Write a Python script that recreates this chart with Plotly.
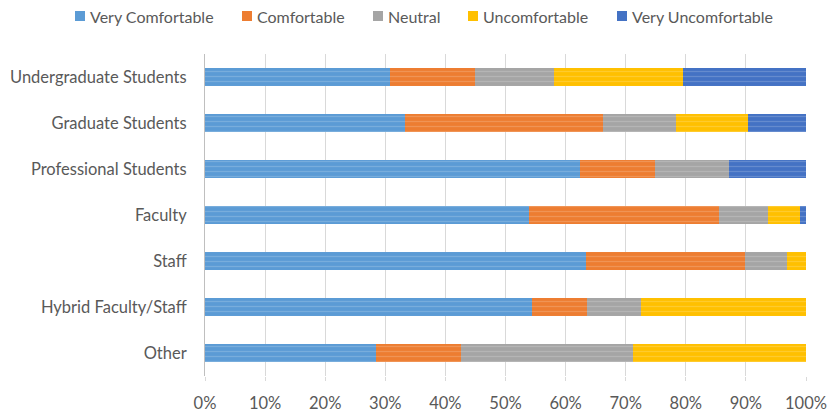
import plotly.graph_objects as go

categories = ["Undergraduate Students", "Graduate Students", "Professional Students",
              "Faculty", "Staff", "Hybrid Faculty/Staff", "Other"]
very_comfortable = [30.7, 33.3, 62.4, 53.9, 63.4, 54.4, 28.4]
comfortable = [14.3, 32.9, 12.5, 31.7, 26.5, 9.1, 14.2]
neutral = [13.0, 12.1, 12.3, 8.1, 6.9, 9.0, 28.6]
uncomfortable = [21.6, 12.1, 0.0, 5.3, 3.2, 27.5, 28.8]
very_uncomfortable = [20.4, 9.6, 12.8, 1.0, 0.0, 0.0, 0.0]

series_names = ["Very Comfortable", "Comfortable", "Neutral", "Uncomfortable", "Very Uncomfortable"]
series_values = [very_comfortable, comfortable, neutral, uncomfortable, very_uncomfortable]
series_colors = ["#5B9BD5", "#ED7D31", "#A5A5A5", "#FFC000", "#4472C4"]

W, H = 829, 412
ML, MR, MT, MB = 205, 23, 54, 36
PW, PH = W - ML - MR, H - MT - MB

def px_to_paper_x(px):
    return (px - ML) / PW

def px_to_paper_y(py):
    return 1 - (py - MT) / PH

fig = go.Figure()
for name, vals, col in zip(series_names, series_values, series_colors):
    fig.add_trace(go.Bar(
        y=categories, x=[v / 100 for v in vals], name=name, orientation="h",
        marker=dict(color=col, line=dict(width=0),
                    pattern=dict(shape="-", fgcolor="rgba(255,255,255,0.35)", size=5, solidity=0.25)),
        width=0.4, showlegend=False,
    ))

# manual legend (single row, like the reference)
legend_marker_px = [75, 242, 373, 468, 617]
for name, col, mx in zip(series_names, series_colors, legend_marker_px):
    fig.add_shape(type="rect", xref="paper", yref="paper",
                  x0=px_to_paper_x(mx), x1=px_to_paper_x(mx + 10),
                  y0=px_to_paper_y(21), y1=px_to_paper_y(11),
                  fillcolor=col, line=dict(width=0))
    fig.add_annotation(xref="paper", yref="paper", x=px_to_paper_x(mx + 13), y=px_to_paper_y(16),
                       xanchor="left", yanchor="middle", text=name, showarrow=False,
                       font=dict(family="Lato, sans-serif", size=16, color="#595959"))

fig.update_layout(
    barmode="stack",
    width=W, height=H,
    margin=dict(l=ML, r=MR, t=MT, b=MB),
    paper_bgcolor="white", plot_bgcolor="white",
    font=dict(family="Lato, sans-serif", size=16, color="#595959"),
    showlegend=False,
    xaxis=dict(range=[0, 1], tickformat=".0%", dtick=0.1, showgrid=True,
               gridcolor="#D9D9D9", gridwidth=1, zeroline=False, automargin=False,
               ticks="outside", ticklen=4, tickcolor="#D9D9D9", ticklabelstandoff=8,
               tickfont=dict(size=16.5, color="#595959"), fixedrange=True),
    yaxis=dict(autorange="reversed", showline=True, linecolor="#BFBFBF", linewidth=1,
               ticks="", automargin=False, ticklabelstandoff=14,
               tickfont=dict(size=16.5, color="#595959")),
    bargap=0.6,
)

fig.write_html("out.html")
